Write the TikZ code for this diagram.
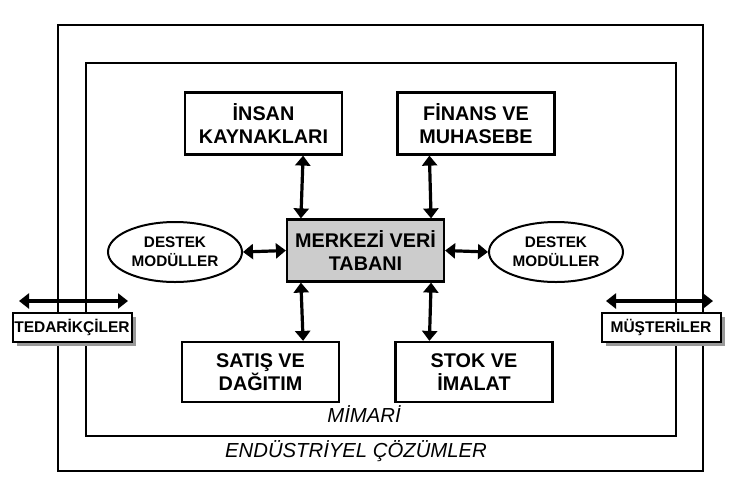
\documentclass[tikz,border=0pt]{standalone}
\usepackage{fontspec}
\setmainfont{Liberation Sans}
\usetikzlibrary{arrows.meta,shapes.geometric,shadows}
\begin{document}
\begin{tikzpicture}[x=1pt,y=-1pt,
  frame/.style={draw,line width=2pt},
  modbox/.style={draw,line width=2.2pt,fill=white,align=center,inner sep=0pt,
    font=\bfseries\fontsize{19.8}{23}\selectfont,minimum width=157pt,minimum height=62pt},
  hubbox/.style={modbox,fill=black!20},
  supp/.style={draw,ellipse,line width=2pt,fill=white,align=center,inner sep=0pt,
    font=\bfseries\fontsize{15.3}{19}\selectfont,minimum width=134pt,minimum height=60pt},
  partner/.style={draw,line width=2pt,fill=white,inner sep=0pt,
    font=\bfseries\fontsize{15.5}{17}\selectfont,minimum width=119pt,minimum height=29pt,
    drop shadow={shadow xshift=4pt,shadow yshift=-4pt,fill=black!40,opacity=1}},
  arr/.style={line width=3.2pt,{Triangle[length=10pt,width=15pt]}-{Triangle[length=10pt,width=15pt]}},
  lbl/.style={font=\itshape\fontsize{20.3}{23}\selectfont}]
\useasboundingbox (0,0) rectangle (736,488);
% frames
\draw[frame] (58,25) rectangle (703,471);
\draw[frame] (86,63) rectangle (676,436);
% modules
\node[modbox] (insan) at (263.5,123.5) {İNSAN\\KAYNAKLARI};
\node[modbox] (finans) at (476,123.5) {FİNANS VE\\MUHASEBE};
\node[hubbox] (merkez) at (365.5,250.5) {MERKEZİ VERİ\\TABANI};
\node[modbox,minimum height=60pt] (satis) at (260.5,372) {SATIŞ VE\\DAĞITIM};
\node[modbox,minimum height=60pt] (stok) at (474,372) {STOK VE\\İMALAT};
\node[supp] (destekL) at (175,252) {DESTEK\\MODÜLLER};
\node[supp] (destekR) at (556,252) {DESTEK\\MODÜLLER};
% partners
\node[partner] (ted) at (72,327) {TEDARİKÇİLER};
\node[partner] (mus) at (661,327) {MÜŞTERİLER};
\coordinate (tedL) at (19,301);
\coordinate (tedR) at (128,301);
\coordinate (musL) at (606,301);
\coordinate (musR) at (713,301);
% connectors
\draw[arr] ([xshift=-40pt]insan.south east) -- ([xshift=15pt]merkez.north west);
\draw[arr] ([xshift=33pt]finans.south west) -- ([xshift=-14pt]merkez.north east);
\draw[arr] ([xshift=15pt]merkez.south west) -- ([xshift=-37pt]satis.north east);
\draw[arr] ([xshift=-14pt]merkez.south east) -- ([xshift=35pt]stok.north west);
\draw[arr] (destekL.east) -- (merkez.west);
\draw[arr] (merkez.east) -- (destekR.west);
\draw[arr] (tedL) -- (tedR);
\draw[arr] (musL) -- (musR);
% labels
\node[lbl] (mimari) at (364,414) {MİMARİ};
\node[lbl] (endus) at (356,451) {ENDÜSTRİYEL ÇÖZÜMLER};
\end{tikzpicture}
\end{document}
